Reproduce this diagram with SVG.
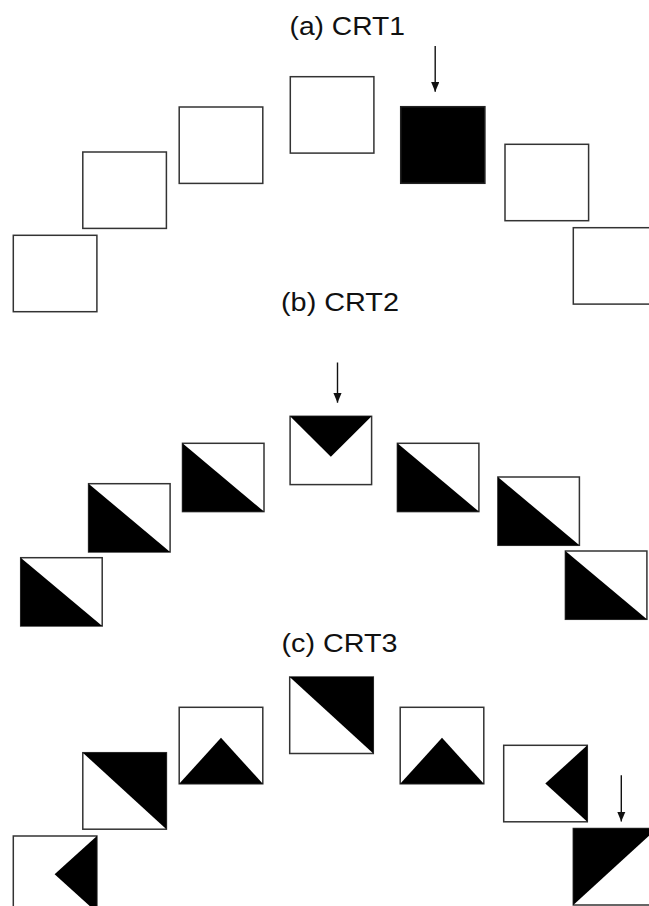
<svg xmlns="http://www.w3.org/2000/svg" width="649" height="906" viewBox="0 0 649 906">
<style>
.t{font-family:"Liberation Sans",Arial,sans-serif;font-size:25px;fill:#111}
.bx{fill:#fff;stroke:#333;stroke-width:1.5}
.bk{fill:#000;stroke:#222;stroke-width:1.5}
.tri{fill:#000}
.ar{stroke:#111;stroke-width:1.4;fill:none}
</style>
<defs>
<marker id="ah" markerUnits="userSpaceOnUse" markerWidth="10" markerHeight="8.4" viewBox="0 0 10 8.4" refX="10" refY="4.2" orient="auto">
<path d="M0,0 L10,4.2 L0,8.4 z" fill="#111"/>
</marker>
</defs>
<rect width="649" height="906" fill="#fff"/>
<text class="t" x="289.5" y="35" textLength="115.5" lengthAdjust="spacingAndGlyphs">(a) CRT1</text>
<text class="t" x="281" y="311" textLength="118" lengthAdjust="spacingAndGlyphs">(b) CRT2</text>
<text class="t" x="281.5" y="652" textLength="116" lengthAdjust="spacingAndGlyphs">(c) CRT3</text>

<g id="a1" transform="translate(13.3,235.3)"><rect class="bx" width="83.6" height="76.4"/></g>
<g id="a2" transform="translate(82.8,152)"><rect class="bx" width="83.6" height="76.4"/></g>
<g id="a3" transform="translate(179.2,107)"><rect class="bx" width="83.6" height="76.4"/></g>
<g id="a4" transform="translate(290.3,76.7)"><rect class="bx" width="83.6" height="76.4"/></g>
<g id="a5" transform="translate(400.7,106.7)"><rect class="bk" width="84.2" height="76.6"/></g>
<g id="a6" transform="translate(505,144.3)"><rect class="bx" width="83.6" height="76.4"/></g>
<g id="a7" transform="translate(573.3,227.7)"><rect class="bx" width="84" height="76.4"/></g>

<g id="b1" transform="translate(20.7,557.7)"><rect class="bx" width="81.5" height="68.3"/><polygon class="tri" points="0,0 0,68.3 81.5,68.3"/></g>
<g id="b2" transform="translate(88.6,483.7)"><rect class="bx" width="81.5" height="68.3"/><polygon class="tri" points="0,0 0,68.3 81.5,68.3"/></g>
<g id="b3" transform="translate(182.5,443.3)"><rect class="bx" width="81.5" height="68.3"/><polygon class="tri" points="0,0 0,68.3 81.5,68.3"/></g>
<g id="b4" transform="translate(290.1,416.3)"><rect class="bx" width="81.5" height="68.3"/><polygon class="tri" points="0,0 81.5,0 40.75,40.5"/></g>
<g id="b5" transform="translate(397.4,443.3)"><rect class="bx" width="81.5" height="68.3"/><polygon class="tri" points="0,0 0,68.3 81.5,68.3"/></g>
<g id="b6" transform="translate(497.9,477)"><rect class="bx" width="81.5" height="68.3"/><polygon class="tri" points="0,0 0,68.3 81.5,68.3"/></g>
<g id="b7" transform="translate(565.4,551)"><rect class="bx" width="81.5" height="68.3"/><polygon class="tri" points="0,0 0,68.3 81.5,68.3"/></g>

<g id="c1" transform="translate(13.3,836)"><rect class="bx" width="83.6" height="76.5"/><polygon class="tri" points="83.6,0 41.3,38.25 83.6,76.5"/></g>
<g id="c2" transform="translate(82.8,752.7)"><rect class="bx" width="83.6" height="76.5"/><polygon class="tri" points="0,0 83.6,0 83.6,76.5"/></g>
<g id="c3" transform="translate(179.2,707.3)"><rect class="bx" width="83.6" height="76.5"/><polygon class="tri" points="0,76.5 41.8,30.5 83.6,76.5"/></g>
<g id="c4" transform="translate(289.7,677)"><rect class="bx" width="83.6" height="76.5"/><polygon class="tri" points="0,0 83.6,0 83.6,76.5"/></g>
<g id="c5" transform="translate(400.2,707.3)"><rect class="bx" width="83.6" height="76.5"/><polygon class="tri" points="0,76.5 41.8,30.5 83.6,76.5"/></g>
<g id="c6" transform="translate(503.7,745.3)"><rect class="bx" width="83.6" height="76.5"/><polygon class="tri" points="83.6,0 41.6,38.25 83.6,76.5"/></g>
<g id="c7" transform="translate(573.3,828.5)"><rect class="bx" width="83.6" height="76.5"/><polygon class="tri" points="0,0 83.6,0 0,76.5"/></g>

<g id="connectors">
<line class="ar" x1="435.2" y1="46" x2="435.2" y2="91.7" marker-end="url(#ah)"/>
<line class="ar" x1="337.5" y1="362.5" x2="337.5" y2="402.7" marker-end="url(#ah)"/>
<line class="ar" x1="621.3" y1="775.3" x2="621.3" y2="821.5" marker-end="url(#ah)"/>
</g>
</svg>
